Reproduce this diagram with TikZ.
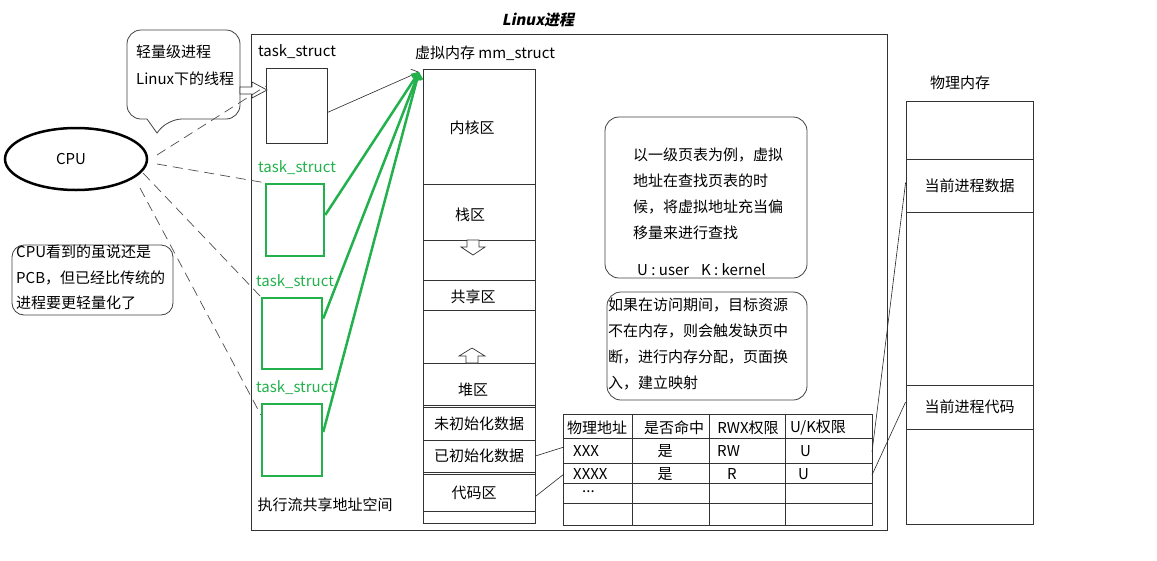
\documentclass[tikz,border=0pt]{standalone}
\usepackage{fontspec}
\setmainfont{Noto Sans CJK SC}
\newfontfamily\titlefont[FakeSlant=0.2]{Noto Sans CJK SC}
\usetikzlibrary{arrows.meta, shapes.geometric}
\definecolor{taskgreen}{HTML}{22B14C}
\newcommand{\txt}{\fontsize{15}{18}\selectfont}
\tikzset{
	boxnode/.style={
			shape=rectangle,
			draw=black!80,
			line width=0.8pt,
			fill=none,
			inner sep=0pt
		},
	tasknode/.style={
			boxnode,
			draw=taskgreen,
			line width=2.5pt
		},
	notebox/.style={
			draw=black!75,
			line width=0.8pt,
			rounded corners=14pt
		},
	cpuline/.style={
			draw=black!70,
			line width=0.7pt,
			dash pattern=on 10pt off 6pt
		},
	greenline/.style={
			draw=taskgreen,
			line width=2.5pt,
			-{Straight Barb[length=5pt]}
		},
	thinline/.style={
			draw=black!85,
			line width=0.6pt
		},
	hollowarrow/.style={
			draw=black!80,
			line width=0.7pt,
			fill=white
		}
}
\tikzset{
	every node/.style={font=\txt, inner sep=0pt}
}
\begin{document}
\begin{tikzpicture}[x=1pt, y=-1pt]
  \useasboundingbox (0,0) rectangle (1157,560);

  % title and process frame
  \node[font=\titlefont\bfseries\txt] (title) at (538,20) {Linux进程};
  \node[boxnode, minimum width=636, minimum height=496] (proc) at (569,282) {};

  % cpu and its callouts
  \node[ellipse, draw, line width=2.5pt, minimum width=142, minimum height=62] (cpu) at (76,159) {};
  \node at (71,159) {CPU};
  \draw[notebox] (147,119) -- (127,119) -- (127,30) -- (240,30) -- (240,119) -- (168,119)
    [sharp corners] -- (157,133) -- (147,119);
  \node[anchor=west, align=left, font=\fontsize{15}{27}\selectfont] (light) at (136,65.5) {轻量级进程\\Linux下的线程};
  \draw[notebox, rounded corners=12pt] (12,245) rectangle (173,315);
  \node[anchor=west, align=left, font=\fontsize{15}{25.5}\selectfont] (seen) at (16,277.5) {CPU看到的虽说还是\\PCB，但已经比传统的\\进程要更轻量化了};

  % task_struct boxes
  \node (l0) at (297,52) {task\_struct};
  \node[text=taskgreen] (l1) at (297,168) {task\_struct};
  \node[text=taskgreen] (l2) at (295,282) {task\_struct};
  \node[text=taskgreen] (l3) at (295,388) {task\_struct};

  \node[boxnode, minimum width=61, minimum height=75] (ts0) at (296.5,105.5) {};
  \node[tasknode, minimum width=58, minimum height=72] (ts1) at (295,220) {};
  \node[tasknode, minimum width=60, minimum height=71] (ts2) at (292,333.5) {};
  \node[tasknode, minimum width=60, minimum height=72] (ts3) at (292,440) {};

  \draw[hollowarrow] (240,87) -- (252,87) -- (252,82) -- (267,90) -- (252,98) -- (252,94) -- (240,94) -- cycle;

  \coordinate (c0) at (157,155);
  \coordinate (c1) at (157,164);
  \coordinate (c2) at (143,173);
  \coordinate (c3) at (140,188);
  \draw[cpuline] (c0) -- (ts0.148);
  \draw[cpuline] (c1) -- (ts1.north west);
  \draw[cpuline] (c2) -- (ts2.north west);
  \draw[cpuline] (c3) -- ([yshift=-12pt]ts3.north west);

  \node (share) at (325,505) {执行流共享地址空间};

  % virtual memory
  \node (vmlabel) at (485,53) {虚拟内存 mm\_struct};
  \node[boxnode, minimum width=112, minimum height=454] (vm) at (479,296) {};
  \node[boxnode, minimum width=112, minimum height=115] (kern) at (479,126.5) {};
  \node[boxnode, minimum width=112, minimum height=56] (stack) at (479,212) {};
  \node[boxnode, minimum width=112, minimum height=30] (shm) at (479,295) {};
  \node[boxnode, minimum width=112, minimum height=42] (heap) at (479,384) {};
  \node[boxnode, minimum width=112, minimum height=33] (bss) at (479,423.5) {未初始化数据};
  \node[boxnode, minimum width=112, minimum height=32] (data) at (479,456) {已初始化数据};
  \node[boxnode, minimum width=112, minimum height=37] (code) at (479,492.5) {};

  \node at (472,128) {内核区};
  \node at (470,215) {栈区};
  \node at (473,297) {共享区};
  \node at (473,390) {堆区};
  \node at (474,493) {代码区};

  \draw[hollowarrow] (467,240) -- (479,240) -- (479,247) -- (485,247) -- (473,255) -- (461,247) -- (467,247) -- cycle;
  \draw[hollowarrow] (466,363) -- (478,363) -- (478,356) -- (485,356) -- (472,348) -- (459,356) -- (466,356) -- cycle;

  \coordinate (vmtip) at (419,72);
  \draw[thinline, -{Straight Barb[length=6pt]}] ([yshift=-7pt]ts0.east) -- (vmtip);
  \draw[greenline] ([yshift=5pt]ts1.east) -- (vmtip);
  \draw[greenline] ([yshift=15pt]ts2.east) -- (vmtip);
  \draw[greenline] ([yshift=8pt]ts3.east) -- (vmtip);

  % notes
  \draw[notebox] (605,117) rectangle (807,278);
  \node[anchor=west, align=left, font=\fontsize{15}{26}\selectfont] (note1) at (633,194)
    {以一级页表为例，虚拟\\地址在查找页表的时\\候，将虚拟地址充当偏\\移量来进行查找};
  \node[anchor=west] (uk) at (637,270) {U : user\hspace{12pt}K : kernel};
  \draw[notebox] (607,292) rectangle (807,400);
  \node[anchor=west, align=left, font=\fontsize{15}{26}\selectfont] (note2) at (608,344)
    {如果在访问期间，目标资源\\不在内存，则会触发缺页中\\断，进行内存分配，页面换\\入，建立映射};

  % page table
  \node[boxnode, minimum width=309, minimum height=111] (ptab) at (717.5,469.5) {};
  \draw[boxnode] (563,438) -- (872,438);
  \draw[boxnode] (563,463) -- (872,463);
  \draw[boxnode] (563,483) -- (872,483);
  \draw[boxnode] (563,503) -- (872,503);
  \draw[boxnode] (632,414) -- (632,525);
  \draw[boxnode] (709,414) -- (709,525);
  \draw[boxnode] (785,414) -- (785,525);

  \node (h1) at (597,428) {物理地址};
  \node (h2) at (674,428) {是否命中};
  \node (h3) at (748,428) {RWX权限};
  \node (h4) at (818,428) {U/K权限};
  \node[anchor=west] (a1) at (573,451) {XXX};
  \node (a2) at (665,451) {是};
  \node[anchor=west] (a3) at (717,451) {RW};
  \node[anchor=west] (a4) at (800,451) {U};
  \node[anchor=west] (b1) at (573,474) {XXXX};
  \node (b2) at (665,474) {是};
  \node[anchor=west] (b3) at (727,474) {R};
  \node[anchor=west] (b4) at (798,474) {U};
  \node[anchor=west] (c1t) at (582,492) {...};

  \coordinate (t1l) at (564,447);
  \coordinate (t2l) at (564,474);
  \coordinate (t1r) at (872,452);
  \coordinate (t2r) at (872,475);
  \draw[thinline] (data.east) -- (t1l);
  \draw[thinline] ([yshift=-4pt]code.east) -- (t2l);

  % physical memory
  \node (plabel) at (960,83) {物理内存};
  \node[boxnode, minimum width=127, minimum height=423] (phys) at (969.5,312.5) {};
  \node[boxnode, minimum width=127, minimum height=53] (pdata) at (969.5,185.5) {当前进程数据};
  \node[boxnode, minimum width=127, minimum height=44] (pcode) at (969.5,407) {当前进程代码};

  \draw[thinline] (t1r) -- ([yshift=3pt]pdata.west);
  \draw[thinline] (t2r) -- ([yshift=5pt]pcode.west);

\end{tikzpicture}
\end{document}
